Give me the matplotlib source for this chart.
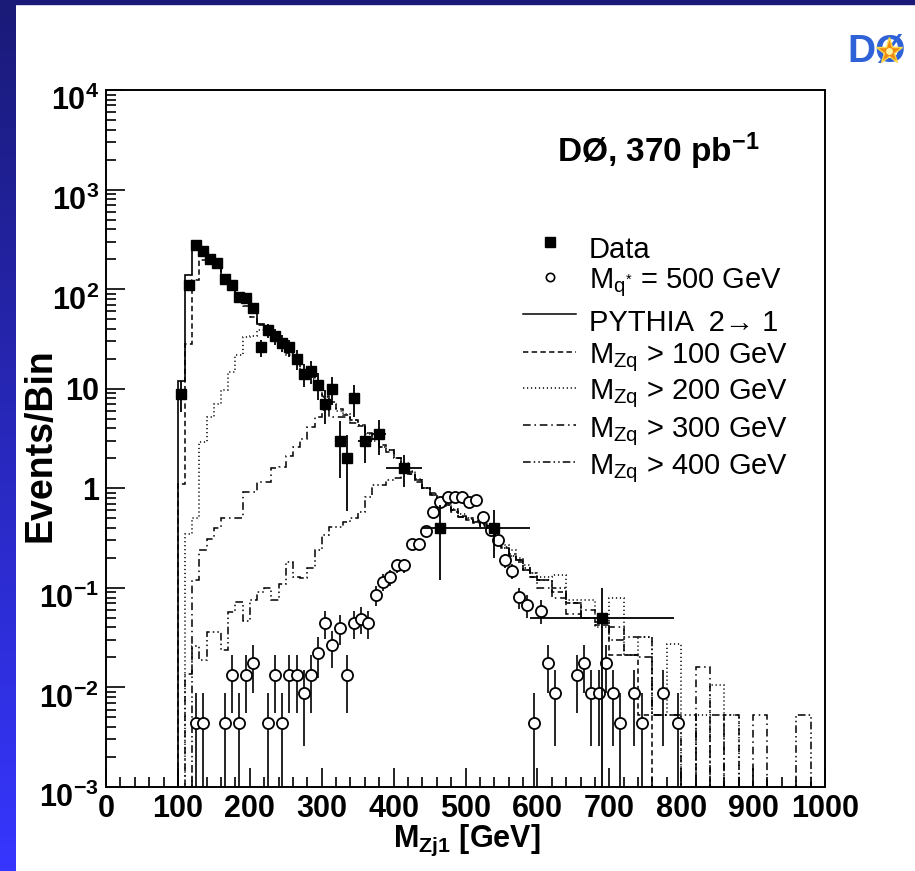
import numpy as np
import matplotlib
matplotlib.use("Agg")
import matplotlib.pyplot as plt
from matplotlib.lines import Line2D
from matplotlib.patches import Rectangle
from matplotlib.colors import LinearSegmentedColormap
from matplotlib.ticker import MultipleLocator, LogLocator, NullFormatter
from matplotlib.transforms import ScaledTranslation

plt.rcParams.update({
    "font.family": ["Liberation Sans", "DejaVu Sans"],
    "mathtext.fontset": "custom",
    "mathtext.rm": "Liberation Sans",
    "mathtext.it": "Liberation Sans:italic",
    "mathtext.bf": "Liberation Sans:bold",
    "mathtext.sf": "Liberation Sans",
})

# ── data points (D0, 370 pb^-1) ────────────────────────────────────────────
data_x = [105, 115, 125, 135, 145, 155, 165, 175, 185, 195, 205, 215, 225, 235, 245,
          255, 265, 275, 285, 295, 305, 315, 325, 335, 345, 360, 380, 415, 465, 540, 690]
data_xerr = [5, 5, 5, 5, 5, 5, 5, 5, 5, 5, 5, 5, 5, 5, 5,
             5, 5, 5, 5, 5, 5, 5, 5, 5, 5, 10, 10, 25, 25, 50, 100]
data_y = [8.9, 109, 275, 241, 202, 185, 125, 109, 83, 82, 65, 26, 38.5, 33.6, 29,
          26, 20, 14, 15, 11, 7.0, 9.9, 3.0, 2.0, 8.0, 3.0, 3.5, 1.6, 0.4, 0.4, 0.05]
data_err = [3.0, 10.4, 16.6, 15.5, 14.2, 13.6, 11.2, 10.4, 9.1, 9.1, 8.1, 5.1, 6.2, 5.8, 5.4,
            5.1, 4.5, 3.7, 3.9, 3.3, 2.6, 3.1, 1.73, 1.41, 2.83, 1.22, 1.32, 0.57, 0.28, 0.2, 0.05]

# ── excited quark signal, M_q* = 500 GeV ───────────────────────────────────
sig_x = [125, 135, 165, 175, 185, 195, 205, 225, 235, 245, 255, 265, 275, 285, 295,
         305, 315, 325, 335, 345, 355, 365, 375, 385, 395, 405, 415, 425, 435, 445,
         455, 465, 475, 485, 495, 505, 515, 525, 535, 545, 555, 565, 575, 585, 595,
         605, 615, 625, 655, 665, 675, 685, 695, 705, 715, 735, 745, 775, 795]
sig_y = [0.0044, 0.0044, 0.0044, 0.0133, 0.0044, 0.0133, 0.0176, 0.0044, 0.0133, 0.0044,
         0.0133, 0.0133, 0.0088, 0.0133, 0.0222, 0.0444, 0.0265, 0.0398, 0.0133, 0.0444,
         0.049, 0.0444, 0.0843, 0.115, 0.128, 0.169, 0.169, 0.278, 0.278, 0.37,
         0.578, 0.729, 0.819, 0.819, 0.819, 0.729, 0.758, 0.515, 0.38, 0.30,
         0.189, 0.148, 0.081, 0.067, 0.0044, 0.059, 0.0176, 0.0088, 0.0133, 0.0176,
         0.0088, 0.0088, 0.0176, 0.0088, 0.0044, 0.0088, 0.0044, 0.0088, 0.0044]
sig_err = [0.0044, 0.0044, 0.0044, 0.0077, 0.0044, 0.0077, 0.0088, 0.0044, 0.0077, 0.0044,
           0.0077, 0.0077, 0.0062, 0.0077, 0.0099, 0.014, 0.0108, 0.0132, 0.0077, 0.014,
           0.0147, 0.014, 0.0193, 0.0225, 0.0237, 0.0273, 0.0273, 0.035, 0.035, 0.04,
           0.05, 0.057, 0.06, 0.06, 0.06, 0.057, 0.058, 0.048, 0.041, 0.036,
           0.029, 0.0255, 0.019, 0.017, 0.0044, 0.016, 0.0088, 0.0062, 0.0077, 0.0088,
           0.0062, 0.0062, 0.0088, 0.0062, 0.0044, 0.0062, 0.0044, 0.0062, 0.0044]

# ── MC histograms: 10 GeV bins 90-600, then 20 GeV bins 600-1000 ──────────
mc_edges = np.concatenate([np.arange(90, 600, 10), np.arange(600, 1001, 20)])

pythia = [0, 12, 140, 290, 250, 210, 180, 135, 110, 88, 75, 58, 45, 38]

mzq100 = [0, 1.1, 28, 123, 195, 185, 165, 125, 100, 80, 68, 52, 44, 38, 32, 27, 23,
          19, 15.5, 13, 10.5, 8.5, 7.4, 6.2, 5.4, 4.8, 4.2, 3.6, 3.1, 2.7, 2.3, 2.0,
          1.7, 1.45, 1.2, 1.0, 0.9, 0.78, 0.68, 0.6, 0.52, 0.48, 0.46, 0.42, 0.36, 0.3,
          0.25, 0.21, 0.18, 0.15, 0.13,
          0.12, 0.09, 0.07, 0.05, 0.042, 0.021, 0.021, 0.0053, 0, 0,
          0, 0, 0, 0, 0, 0, 0, 0, 0, 0]
mzq200 = [0, 0, 0.35, 0.5, 2.9, 5.2, 7.1, 9.6, 14.7, 21.6, 33, 34, 39, 37, 31, 27, 22,
          18, 15, 12.5, 10, 8.2, 7.0, 6.0, 5.6, 4.9, 4.3, 3.5, 3.0, 2.6, 2.4, 2.0,
          1.8, 1.5, 1.25, 1.0, 0.86, 0.74, 0.7, 0.62, 0.55, 0.5, 0.47, 0.42, 0.4, 0.3,
          0.27, 0.24, 0.2, 0.17, 0.14,
          0.13, 0.134, 0.075, 0.075, 0.04, 0.08, 0.021, 0.032, 0.0053, 0.027,
          0, 0.0053, 0.0105, 0.0053, 0, 0, 0, 0, 0, 0]
mzq300 = [0, 0, 0.0136, 0.12, 0.24, 0.31, 0.4, 0.5, 0.5, 0.5, 0.92, 0.92, 1.16, 1.16,
          1.6, 1.64, 2.1, 2.6, 3.15, 4.1, 5.2, 6.1, 5.2, 5.2, 5.2, 4.5, 4.3, 3.6, 3.1,
          2.6, 2.4, 2.0, 1.7, 1.4, 1.2, 1.0, 0.85, 0.75, 0.66, 0.58, 0.51, 0.49, 0.45,
          0.44, 0.37, 0.27, 0.25, 0.21, 0.19, 0.15, 0.13,
          0.1, 0.08, 0.055, 0.06, 0.05, 0.04, 0.021, 0.02, 0.0053, 0.0053,
          0, 0.016, 0, 0.0053, 0, 0.0053, 0, 0, 0, 0]
mzq400 = [0, 0, 0, 0.026, 0.019, 0.036, 0.036, 0.024, 0.057, 0.072, 0.047, 0.075, 0.091,
          0.1, 0.075, 0.11, 0.18, 0.13, 0.125, 0.16, 0.24, 0.34, 0.41, 0.41, 0.46, 0.5,
          0.58, 0.82, 1.07, 1.07, 1.2, 1.26, 1.5, 1.4, 1.15, 1.0, 0.88, 0.76, 0.68, 0.6,
          0.53, 0.5, 0.46, 0.43, 0.38, 0.28, 0.26, 0.22, 0.19, 0.16, 0.14,
          0.12, 0.1, 0.07, 0.05, 0.045, 0.03, 0.032, 0.032, 0.0053, 0.0053,
          0.0053, 0, 0.0053, 0, 0, 0, 0, 0, 0.0053, 0]

y_ticks = [1e-3, 1e-2, 1e-1, 1, 10, 1e2, 1e3, 1e4]
y_ticklabels = [r"$\mathbf{10^{-3}}$", r"$\mathbf{10^{-2}}$", r"$\mathbf{10^{-1}}$", "1", "10",
                r"$\mathbf{10^{2}}$", r"$\mathbf{10^{3}}$", r"$\mathbf{10^{4}}$"]

W, H = 915, 871
LS_DASH = (0, (3.5, 2.2))
LS_DOT = (0, (0.8, 1.8))
LS_DASHDOT = (0, (5, 2.5, 1, 2.5))
LS_DASHDOTDOT = (0, (5, 2, 1, 2, 1, 2))

fig = plt.figure(figsize=(W / 100, H / 100), dpi=100, facecolor="white")

# slide border: gradient strip on the left, thin band on top
strip = fig.add_axes([0, 0, 16 / W, 1])
grad = np.linspace(0, 1, 256).reshape(-1, 1)
strip.imshow(grad, aspect="auto", origin="upper",
             cmap=LinearSegmentedColormap.from_list("slide", ["#1a1a78", "#3636ff"]))
strip.set_axis_off()
fig.patches.append(Rectangle((0, 1 - 4 / H), 1, 4 / H, transform=fig.transFigure,
                             color="#1a1a78", zorder=0))

ax = fig.add_axes([106 / W, 1 - 787 / H, 719 / W, 697 / H])
ax.set_yscale("log")

ax.stairs(pythia, mc_edges[:len(pythia) + 1], baseline=None, color="k", lw=1.2)
ax.stairs(mzq100, mc_edges, baseline=None, color="k", lw=1.1, linestyle=LS_DASH)
ax.stairs(mzq200, mc_edges, baseline=None, color="k", lw=1.1, linestyle=LS_DOT)
ax.stairs(mzq300, mc_edges, baseline=None, color="k", lw=1.1, linestyle=LS_DASHDOT)
ax.stairs(mzq400, mc_edges, baseline=None, color="k", lw=1.1, linestyle=LS_DASHDOTDOT)

ax.errorbar(sig_x, sig_y, yerr=sig_err, fmt="o", ms=8, mfc="white", mec="k", mew=1.3,
            ecolor="k", elinewidth=1.2, capsize=0, zorder=4)
ax.errorbar(data_x, data_y, xerr=data_xerr, yerr=data_err, fmt="s", ms=7.5, color="k",
            ecolor="k", elinewidth=1.3, capsize=0, zorder=5)

ax.set_xlim(0, 1000)
ax.set_ylim(1e-3, 1e4)
ax.xaxis.set_major_locator(MultipleLocator(100))
ax.xaxis.set_minor_locator(MultipleLocator(20))
ax.set_yticks(y_ticks)
ax.set_yticklabels(y_ticklabels)
ax.yaxis.set_minor_locator(LogLocator(base=10, subs=np.arange(2, 10), numticks=20))
ax.yaxis.set_minor_formatter(NullFormatter())
ax.tick_params(which="both", direction="in", top=False, right=False, width=1.2)
ax.tick_params(which="major", length=14, labelsize=22)
ax.tick_params(which="minor", length=7)
ax.tick_params(axis="x", pad=5)
ax.tick_params(axis="y", pad=5)
for lab in ax.get_xticklabels() + ax.get_yticklabels():
    lab.set_fontweight("bold")
# power-of-ten labels sit a little lower in the original (ROOT alignment)
shift = ScaledTranslation(0, -6 / 72, fig.dpi_scale_trans)
for lab in ax.get_yticklabels():
    if "^" in lab.get_text():
        lab.set_transform(lab.get_transform() + shift)
for sp in ax.spines.values():
    sp.set_linewidth(1.4)

fig.text(41 / W, 1 - 445 / H, "Events/Bin", rotation=90, ha="center", va="center",
         fontsize=27, fontweight="bold")
fig.text(467 / W, 1 - 840 / H, r"M$_{\mathbf{Zj1}}$ [GeV]", ha="center", va="center",
         fontsize=22, fontweight="bold")
fig.text(557 / W, 1 - 162 / H, r"DØ, 370 pb$^{\mathbf{-1}}$", ha="left", va="baseline",
         fontsize=24, fontweight="bold")

# legend drawn by hand, ROOT style
tx = 589 / W
leg_rows = [
    ("marker", "s", 242, 258, "Data"),
    ("marker", "o", 277, 288, r"M$_{\rm q^{*}}$ = 500 GeV"),
    ("line", "-", 314, 331, "PYTHIA  2→ 1"),
    ("line", LS_DASH, 352, 363, r"M$_{\rm Zq}$ > 100 GeV"),
    ("line", LS_DOT, 388, 399, r"M$_{\rm Zq}$ > 200 GeV"),
    ("line", LS_DASHDOT, 425, 437, r"M$_{\rm Zq}$ > 300 GeV"),
    ("line", LS_DASHDOTDOT, 462, 474, r"M$_{\rm Zq}$ > 400 GeV"),
]
for kind, sty, ysym, ybase, label in leg_rows:
    yy = 1 - ysym / H
    if kind == "marker":
        if sty == "s":
            art = Line2D([550 / W], [yy], marker="s", ms=7, color="k", ls="none",
                         transform=fig.transFigure)
        else:
            art = Line2D([550 / W], [yy], marker="o", ms=6, mfc="white", mec="k", mew=1.2,
                         ls="none", transform=fig.transFigure)
    else:
        art = Line2D([523 / W, 576 / W], [yy, yy], color="k", lw=1.1, linestyle=sty,
                     transform=fig.transFigure)
    fig.add_artist(art)
    fig.text(tx, 1 - ybase / H, label, ha="left", va="baseline", fontsize=21)

# D0 logo, top right
logo = fig.add_axes([846 / W, 1 - 84 / H, 62 / W, 64 / H])
logo.set_xlim(0, 1)
logo.set_ylim(0, 1)
logo.set_axis_off()
logo.text(0.5, 0.5, "DØ", ha="center", va="center", fontsize=28, fontweight="bold",
          color="#2f62d6", zorder=2)
logo.plot([0.7], [0.52], marker="*", ms=20, color="#f08a10", mec="#ffd84a", mew=1,
          zorder=5, clip_on=False)
logo.plot([0.7], [0.52], marker="o", ms=5, color="#fff3a0", mec="none", zorder=6,
          clip_on=False)

fig.savefig("out.png", dpi=100, facecolor="white")
